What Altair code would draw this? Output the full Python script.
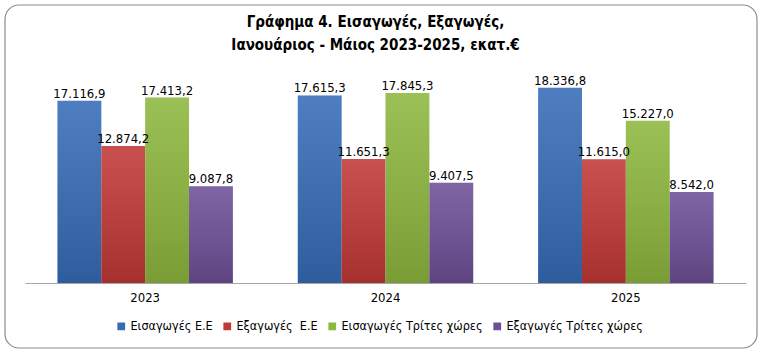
import altair as alt
import pandas as pd

years = ["2023", "2024", "2025"]
series = ["Εισαγωγές Ε.Ε", "Εξαγωγές\u00a0 Ε.Ε", "Εισαγωγές Τρίτες χώρες", "Εξαγωγές Τρίτες χώρες"]
imports_eu = [17116.9, 17615.3, 18336.8]
exports_eu = [12874.2, 11651.3, 11615.0]
imports_third = [17413.2, 17845.3, 15227.0]
exports_third = [9087.8, 9407.5, 8542.0]
colors = ["#356cb6", "#c13836", "#8db73d", "#6d4f96"]

def gr(v):
    s = f"{v:,.1f}"
    return s.replace(",", "X").replace(".", ",").replace("X", ".")

rows = []
for i, y in enumerate(years):
    for s, vals in zip(series, [imports_eu, exports_eu, imports_third, exports_third]):
        rows.append({"year": y, "series": s, "value": vals[i], "label": gr(vals[i])})
df = pd.DataFrame(rows)

FONT = "DejaVu Sans Condensed, sans-serif"

x = alt.X("year:N", title=None, sort=years,
          scale=alt.Scale(paddingInner=0.27, paddingOuter=0.135),
          axis=alt.Axis(labelAngle=0, ticks=False, domainColor="#a6a6a6", labelFontSize=13,
                        labelFont=FONT, labelColor="#000000", labelPadding=8, zindex=1))
xo = alt.XOffset("series:N", sort=series, scale=alt.Scale(paddingInner=0, paddingOuter=0))
y = alt.Y("value:Q", scale=alt.Scale(domain=[0, 20000]), axis=None)

border = alt.Chart(pd.DataFrame({"a": [0]})).mark_rect(
    fill="transparent", stroke="#8c8c8c", strokeWidth=1.2, cornerRadius=14
).encode(x=alt.value(-20), x2=alt.value(732), y=alt.value(-65), y2=alt.value(278))

bars = alt.Chart(df).mark_bar().encode(
    x=x, xOffset=xo, y=y,
    color=alt.Color("series:N", sort=series, scale=alt.Scale(domain=series, range=colors),
                    legend=alt.Legend(title=None, orient="none", legendX=90, legendY=250,
                                      direction="horizontal", symbolType="square", symbolSize=60,
                                      labelFontSize=12.5, labelFont=FONT, columnPadding=8,
                                      labelOffset=3, labelColor="#000000", symbolStrokeWidth=0)),
)

shade = alt.Chart(df).mark_bar(
    fill=alt.Gradient(gradient="linear", x1=0, y1=0, x2=0, y2=1,
                      stops=[alt.GradientStop(color="rgba(255,255,255,0.12)", offset=0),
                             alt.GradientStop(color="rgba(0,0,0,0.14)", offset=1)])
).encode(x=x, xOffset=xo, y=y)

text = alt.Chart(df).mark_text(dy=-7, fontSize=13, font=FONT, color="#000000").encode(
    x=x, xOffset=xo, y=y, text="label:N"
)

chart = alt.layer(border, bars, shade, text).properties(
    width=721, height=213,
    padding={"left": 25, "top": 70, "right": 16, "bottom": 71},
    autosize=alt.AutoSizeParams(type="none"),
    title=alt.TitleParams(["Γράφημα 4. Εισαγωγές, Εξαγωγές,", "Ιανουάριος - Μάιος 2023-2025, εκατ.€"],
                          fontSize=15, font=FONT, fontWeight="bold", anchor="middle", frame="group",
                          dx=-10, offset=-49, lineHeight=23, color="#000000"),
).configure_view(stroke=None)

chart.save("out.html", embed_options={"renderer": "svg", "actions": False})
